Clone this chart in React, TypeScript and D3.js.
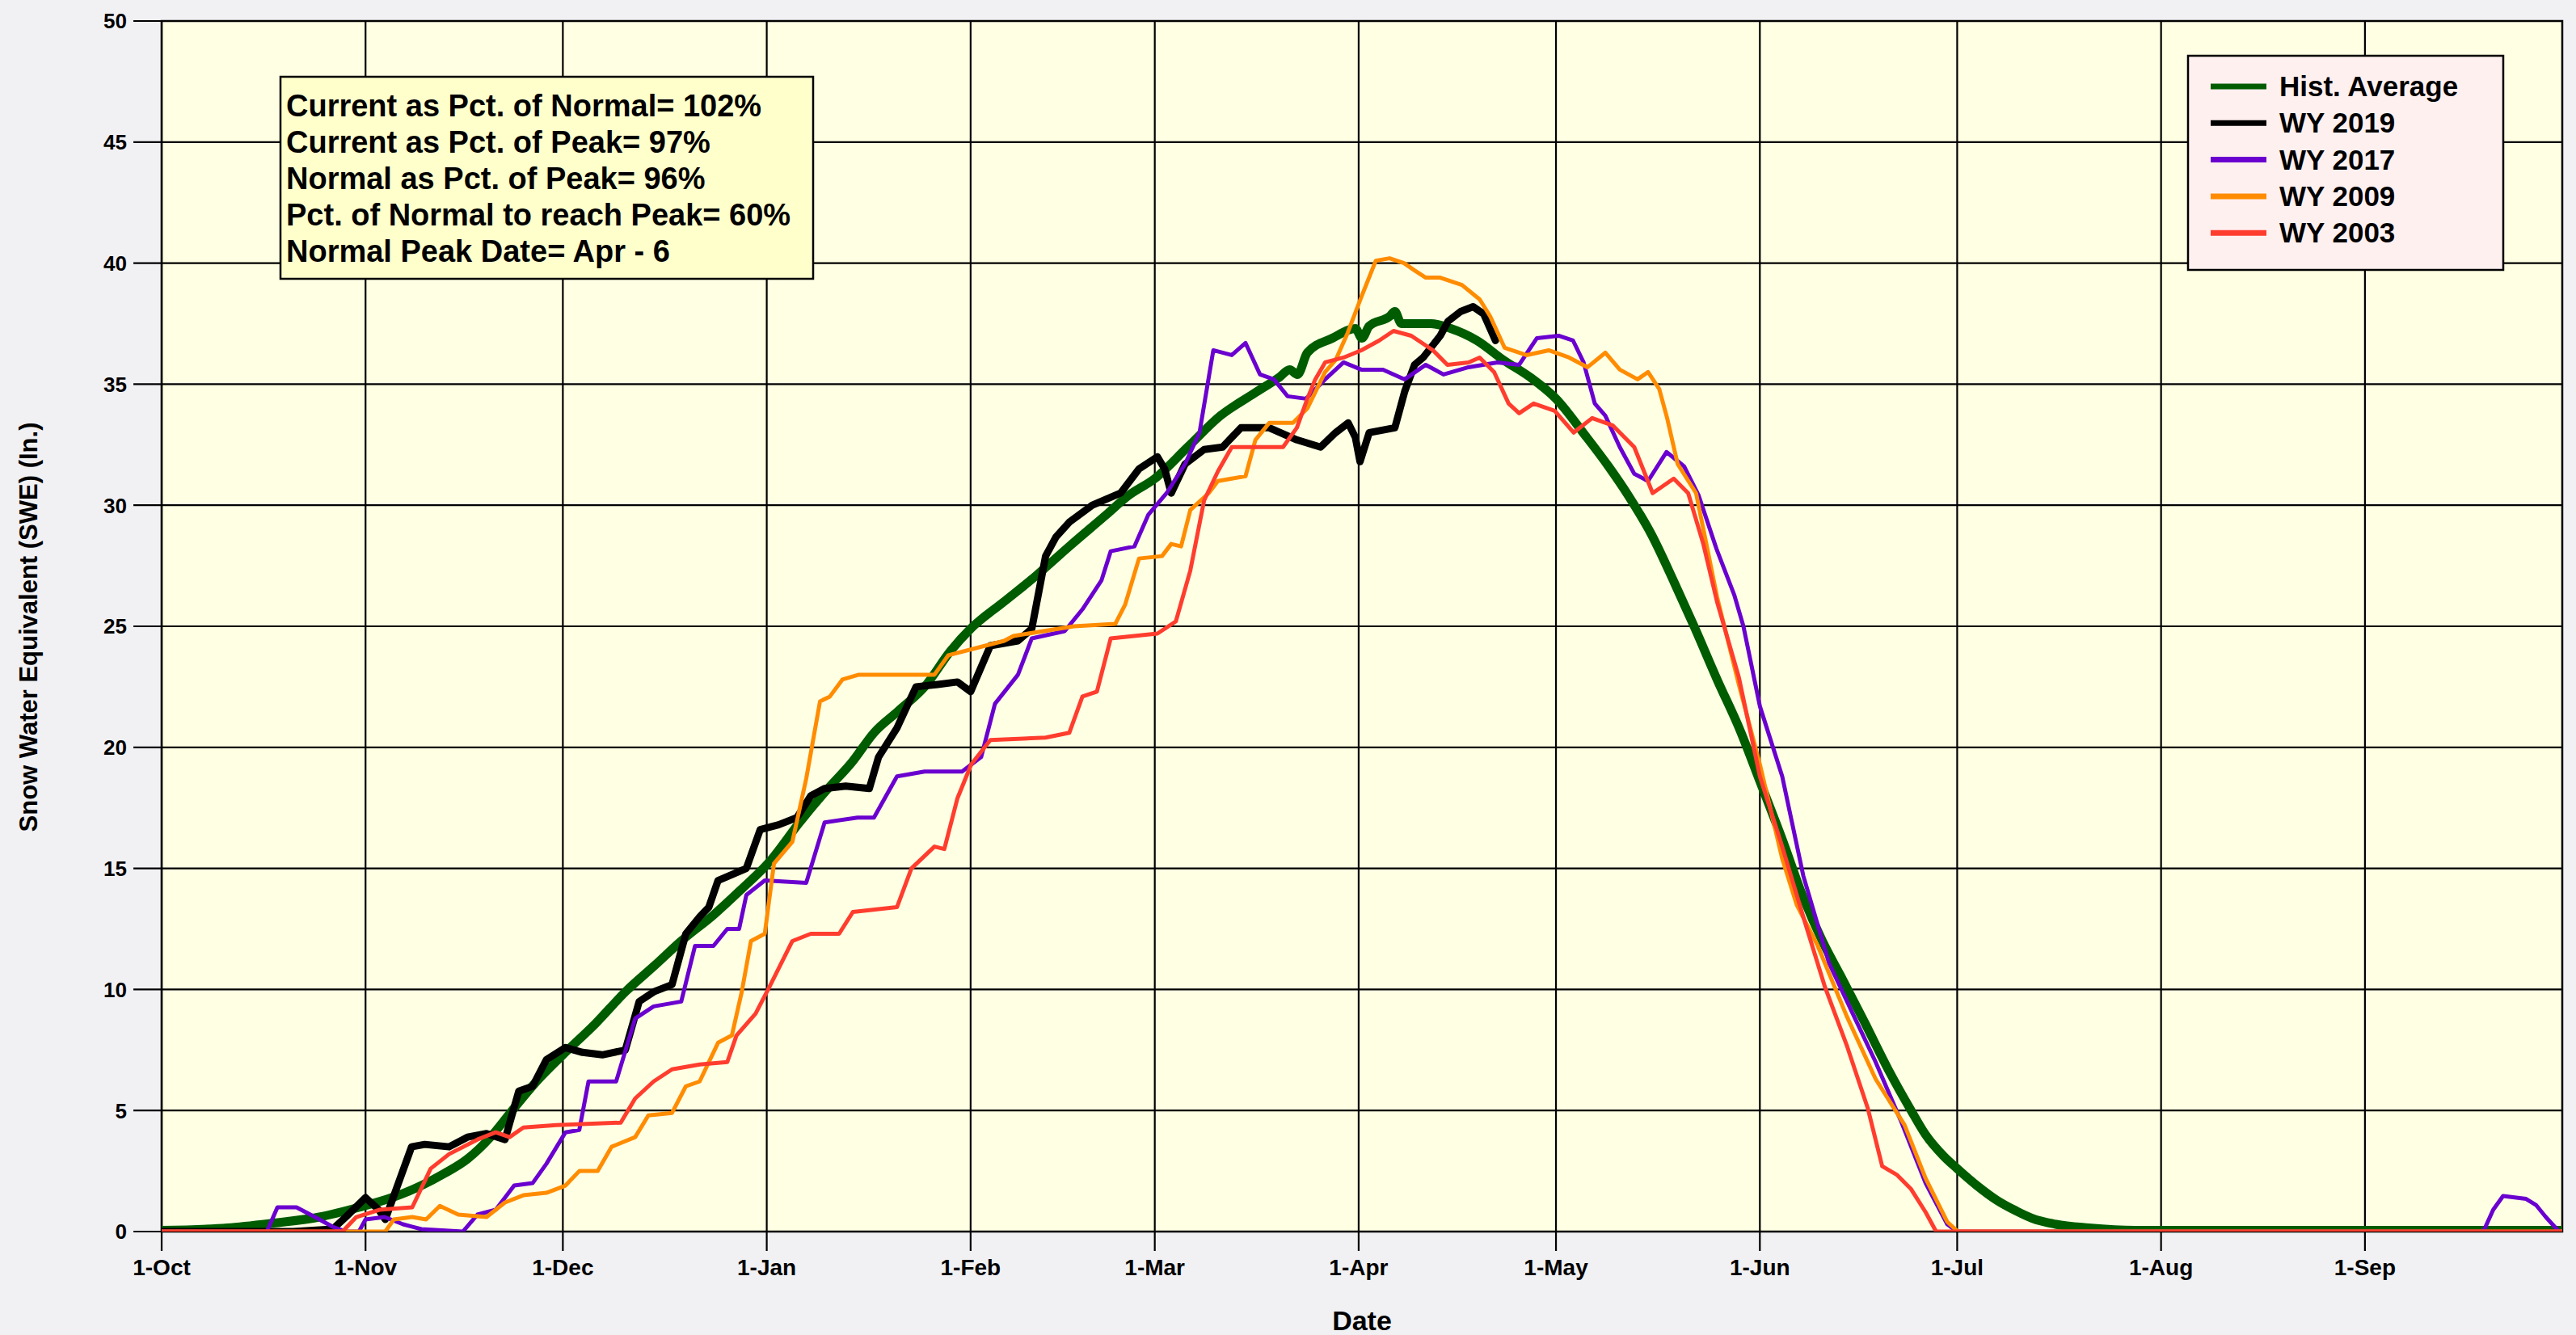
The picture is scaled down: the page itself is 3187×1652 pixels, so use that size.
import React from "react";
import * as d3 from "d3";

// ---- data (x = days since 1-Oct, y = SWE inches) ----
const monthStarts = [0, 31, 61, 92, 123, 151, 182, 212, 243, 273, 304, 335];
const monthLabels = ["1-Oct", "1-Nov", "1-Dec", "1-Jan", "1-Feb", "1-Mar", "1-Apr", "1-May", "1-Jun", "1-Jul", "1-Aug", "1-Sep"];
const yTicks = [0, 5, 10, 15, 20, 25, 30, 35, 40, 45, 50];

const histAvg: [number, number][] = [
  [0, 0.05], [10, 0.15], [17, 0.35], [24, 0.6], [30, 1.0], [35, 1.4], [39.5, 1.9], [43, 2.4], [46.5, 3.0], [50, 3.9],
  [53, 4.9], [57, 6.2], [61, 7.3], [66, 8.6], [70.5, 9.9], [75, 11.0], [79, 12.0], [84, 13.1], [88, 14.1], [92.5, 15.3],
  [97, 16.9], [101, 18.2], [105, 19.4], [108.3, 20.6], [112, 21.5], [116, 22.5], [120, 24.0], [123, 24.9], [128, 26.0],
  [133, 27.1], [138, 28.3], [143.6, 29.6], [147, 30.4], [151, 31.1], [156, 32.4], [161, 33.7], [166, 34.6], [170, 35.3],
  [171.5, 35.6], [172.7, 35.4], [174.2, 36.3], [178, 36.9], [181.5, 37.3], [182.5, 36.9], [183.6, 37.4], [186.7, 37.8],
  [187.5, 38.0], [188.5, 37.5], [193, 37.5], [196, 37.3], [200, 36.8], [204, 36.0], [208, 35.3], [212, 34.4], [216.4, 32.9],
  [220, 31.6], [223, 30.4], [226.5, 28.8], [230, 26.8], [233, 25.0], [236.5, 22.8], [240, 20.7], [243, 18.6], [246.4, 16.2],
  [249.6, 13.8], [252.5, 12.0], [255.6, 10.4], [259, 8.6], [262.7, 6.6], [266, 5.0], [268.2, 4.0], [271, 3.1], [273, 2.6],
  [276, 1.9], [279, 1.3], [282, 0.85], [284.4, 0.55], [288, 0.3], [293, 0.15], [300, 0.05], [365, 0.05],
];

const wy2019: [number, number][] = [
  [0, 0], [20, 0], [26, 0.1], [28, 0.6], [31, 1.4], [33, 0.9], [34, 0.5], [36, 2.0], [38, 3.5], [40, 3.6], [43.7, 3.5],
  [46.5, 3.9], [49.4, 4.05], [52.2, 3.8], [54.3, 5.8], [56.4, 6.0], [58.5, 7.1], [61.4, 7.6], [64, 7.4], [67, 7.3],
  [70.5, 7.5], [72.6, 9.5], [74.8, 9.9], [77.6, 10.2], [79.7, 12.3], [81.8, 13.0], [83.2, 13.4], [84.6, 14.5], [88.9, 15.0],
  [91, 16.6], [93.8, 16.8], [96.6, 17.1], [98.7, 18.0], [100.8, 18.3], [104, 18.4], [107.6, 18.3], [109, 19.6],
  [111.8, 20.8], [114.7, 22.5], [118, 22.6], [121, 22.7], [123, 22.3], [126, 24.2], [130.2, 24.4], [132.3, 24.9],
  [134.4, 27.9], [136, 28.7], [138, 29.3], [141.5, 30.0], [145.8, 30.5], [148.6, 31.5], [151.4, 32.0], [152.5, 31.5],
  [153.5, 30.5], [155.6, 31.7], [158.5, 32.3], [161.3, 32.4], [164.1, 33.2], [168.4, 33.2], [172.6, 32.7], [176.2, 32.4],
  [178.5, 33.0], [180.4, 33.4], [181.5, 32.8], [182.2, 31.8], [183.6, 33.0], [187.5, 33.2], [189, 34.7], [190.5, 35.8],
  [191.8, 36.1], [194.4, 37.0], [195.6, 37.6], [197.5, 38.0], [199.4, 38.2], [201, 37.9], [202.8, 36.8],
];

const wy2017: [number, number][] = [
  [0, 0], [16, 0], [17.6, 1.0], [20.5, 1.0], [23.3, 0.6], [26, 0.2], [28, 0], [30, 0], [31, 0.5], [33.9, 0.6], [36.7, 0.3],
  [39.5, 0.1], [45.8, 0], [48, 0.7], [50.8, 0.9], [53.6, 1.9], [56.4, 2.0], [58.5, 2.8], [61.4, 4.1], [63.5, 4.2],
  [64.9, 6.2], [69.1, 6.2], [72, 8.8], [74.8, 9.3], [79, 9.5], [81.1, 11.8], [83.9, 11.8], [86, 12.5], [87.8, 12.5],
  [88.9, 13.9], [91.7, 14.5], [98, 14.4], [100.8, 16.9], [105.8, 17.1], [108.3, 17.1], [111.8, 18.8], [116, 19.0],
  [121.7, 19.0], [124.6, 19.6], [126.7, 21.8], [130.2, 23.0], [132.3, 24.5], [137.3, 24.8], [140, 25.7], [142.9, 26.9],
  [144.3, 28.1], [147.9, 28.3], [150, 29.6], [152.8, 30.5], [155.6, 31.7], [157.8, 33.0], [159.9, 36.4], [162.7, 36.2],
  [164.8, 36.7], [167, 35.4], [169.1, 35.2], [171.2, 34.5], [174, 34.4], [176.9, 35.2], [179.7, 35.9], [182.4, 35.6],
  [185.7, 35.6], [189, 35.2], [192.2, 35.8], [194.9, 35.4], [198.7, 35.7], [203.1, 35.9], [206.4, 35.8], [209.1, 36.9],
  [212.4, 37.0], [214.6, 36.8], [216.2, 35.9], [217.9, 34.2], [219.5, 33.7], [221.7, 32.4], [223.9, 31.3], [226, 31.0],
  [228.8, 32.2], [231.5, 31.6], [233.7, 30.4], [236.4, 28.2], [239.1, 26.3], [240.5, 25.0], [243, 21.7], [246.4, 18.8],
  [249.6, 14.7], [253.5, 11.1], [257.3, 8.9], [260.6, 7.0], [264.4, 4.6], [268.2, 2.0], [271.5, 0.3], [273, 0], [353, 0],
  [354.5, 0.9], [356, 1.47], [359.5, 1.35], [361, 1.1], [362.5, 0.6], [364.5, 0],
];

const wy2009: [number, number][] = [
  [0, 0], [34, 0], [35.3, 0.5], [38.1, 0.6], [40.2, 0.5], [42.3, 1.06], [45.1, 0.7], [49.4, 0.6], [52.2, 1.2], [55, 1.5],
  [58.5, 1.6], [61.4, 1.9], [63.5, 2.5], [66.3, 2.5], [68.4, 3.5], [72, 3.9], [74, 4.8], [77.6, 4.9], [79.7, 6.0],
  [81.8, 6.2], [84.6, 7.8], [86.7, 8.1], [88.2, 9.9], [89.6, 12.0], [91.7, 12.3], [93.1, 15.2], [95.9, 16.1], [98, 18.7],
  [100.1, 21.9], [101.6, 22.1], [103.5, 22.8], [106, 23.0], [117.5, 23.0], [119.6, 23.8], [128.1, 24.4], [129.5, 24.6],
  [138.7, 25.0], [145, 25.1], [146.5, 25.9], [148.6, 27.8], [152.1, 27.9], [153.5, 28.4], [155, 28.3], [156.4, 29.8],
  [159.2, 30.5], [160.6, 31.0], [164.8, 31.2], [166.3, 32.7], [168.4, 33.4], [172, 33.4], [174.2, 34.0], [176.9, 35.5],
  [178.5, 36.0], [180.3, 37.1], [182.4, 38.6], [184.6, 40.1], [186.7, 40.2], [188.9, 40.0], [190.5, 39.7], [192.2, 39.4],
  [194.4, 39.4], [197.7, 39.1], [200.4, 38.5], [202, 37.8], [204.2, 36.5], [207.5, 36.2], [210.9, 36.4], [214, 36.1],
  [216.8, 35.7], [219.5, 36.3], [221.7, 35.6], [224.4, 35.2], [226, 35.5], [227.7, 34.8], [228.9, 33.6], [230.5, 31.7],
  [233.3, 30.5], [236.5, 26.2], [239.8, 22.6], [243, 19.3], [246.4, 15.4], [248.6, 13.5], [251.8, 11.8], [256.2, 8.9],
  [260.6, 6.3], [265, 4.4], [268.2, 2.2], [271.5, 0.4], [273.1, 0], [365, 0],
];

const wy2003: [number, number][] = [
  [0, 0], [27.5, 0], [29.6, 0.6], [33.1, 0.9], [38.1, 1.0], [40.9, 2.6], [43.7, 3.2], [48, 3.8], [50.8, 4.1], [52.9, 3.9],
  [55, 4.3], [60, 4.4], [69.8, 4.5], [72, 5.5], [74.8, 6.2], [77.6, 6.7], [81.8, 6.9], [86, 7.0], [87.4, 8.1], [90.3, 9.0],
  [92.4, 10.1], [95.9, 12.0], [98.7, 12.3], [103, 12.3], [105.1, 13.2], [111.8, 13.4], [114, 15.0], [117.5, 15.9],
  [119, 15.8], [121, 17.9], [123.1, 19.3], [126, 20.3], [134.4, 20.4], [138, 20.6], [140, 22.1], [142.2, 22.3],
  [144.3, 24.5], [151.4, 24.7], [154.2, 25.2], [156.4, 27.3], [158.5, 30.2], [160.6, 31.4], [162.7, 32.4], [170.5, 32.4],
  [172.6, 33.2], [174.2, 34.4], [175.4, 35.2], [176.9, 35.9], [179.7, 36.1], [182.4, 36.4], [185.1, 36.8], [187.3, 37.2],
  [190, 37.0], [193.3, 36.4], [195.5, 35.8], [198.7, 35.9], [200.4, 36.1], [202.6, 35.5], [204.8, 34.2], [206.4, 33.8],
  [208.6, 34.2], [211.8, 33.9], [214.7, 33.0], [217.5, 33.6], [220.6, 33.3], [223.9, 32.4], [226.7, 30.5], [229.9, 31.1],
  [232.1, 30.5], [234.4, 28.4], [236.5, 26.0], [239.8, 22.9], [243, 18.8], [246.4, 15.9], [249.6, 13.0], [252.9, 10.1],
  [256.2, 7.7], [259.4, 5.1], [261.6, 2.7], [263.8, 2.35], [266, 1.75], [268.2, 0.8], [269.8, 0], [365, 0],
];

const seriesNames = ["Hist. Average", "WY 2019", "WY 2017", "WY 2009", "WY 2003"];
const seriesData = [histAvg, wy2019, wy2017, wy2009, wy2003];
const seriesColors = ["#005C00", "#000000", "#6A00CF", "#FF8C00", "#FF3D2E"];
const seriesWidths = [11, 9, 5, 5, 5];

const statLines = [
  "Current as Pct. of Normal= 102%",
  "Current as Pct. of Peak= 97%",
  "Normal as Pct. of Peak= 96%",
  "Pct. of Normal to reach Peak= 60%",
  "Normal Peak Date= Apr - 6",
];

const W = 3187;
const H = 1652;
const M = { left: 200, right: 3170, top: 26, bottom: 1524 };
const FONT = "'Liberation Sans', Arial, Helvetica, sans-serif";

export default function App() {
  const x = d3.scaleLinear().domain([0, 365]).range([M.left, M.right]);
  const y = d3.scaleLinear().domain([0, 50]).range([M.bottom, M.top]);

  const smoothLine = d3
    .line<[number, number]>()
    .x((d) => x(d[0]))
    .y((d) => y(d[1]))
    .curve(d3.curveMonotoneX);
  const rawLine = d3
    .line<[number, number]>()
    .x((d) => x(d[0]))
    .y((d) => y(d[1]))
    .curve(d3.curveLinear);

  return (
    <svg
      width={W}
      height={H}
      viewBox={`0 0 ${W} ${H}`}
      style={{ position: "absolute", left: 0, top: 0, display: "block" }}
      fontFamily={FONT}
    >
      <defs>
        <clipPath id="plotClip">
          <rect x={M.left} y={M.top} width={M.right - M.left} height={M.bottom - M.top} />
        </clipPath>
      </defs>
      <rect x={0} y={0} width={W} height={H} fill="#F1F1F4" />
      <rect x={M.left} y={M.top} width={M.right - M.left} height={M.bottom - M.top} fill="#FFFFE4" />

      {/* horizontal grid + y ticks */}
      {yTicks.map((t) => (
        <g key={`y${t}`}>
          <line x1={M.left - 35} x2={M.right} y1={y(t)} y2={y(t)} stroke="#000" strokeWidth={2.2} />
          <text
            x={157}
            y={y(t)}
            dy="0.36em"
            textAnchor="end"
            fontSize={26}
            fontWeight="bold"
            fill="#000"
          >
            {t}
          </text>
        </g>
      ))}

      {/* vertical grid + x ticks */}
      {monthStarts.map((m, i) => (
        <g key={`x${m}`}>
          <line x1={x(m)} x2={x(m)} y1={M.top} y2={M.bottom + 24} stroke="#000" strokeWidth={2.2} />
          <text x={x(m)} y={1578} textAnchor="middle" fontSize={28} fontWeight="bold" fill="#000">
            {monthLabels[i]}
          </text>
        </g>
      ))}

      {/* border */}
      <rect
        x={M.left}
        y={M.top}
        width={M.right - M.left}
        height={M.bottom - M.top}
        fill="none"
        stroke="#000"
        strokeWidth={2.5}
      />

      {/* series */}
      <g clipPath="url(#plotClip)">
        {seriesData.map((d, i) => (
          <path
            key={seriesNames[i]}
            d={(i === 0 ? smoothLine(d) : rawLine(d)) || ""}
            fill="none"
            stroke={seriesColors[i]}
            strokeWidth={seriesWidths[i]}
            strokeLinejoin="round"
            strokeLinecap="round"
          />
        ))}
      </g>

      {/* axis titles */}
      <text x={1685} y={1646} textAnchor="middle" fontSize={34} fontWeight="bold" fill="#000">
        Date
      </text>
      <text
        transform={`translate(46, 776) rotate(-90)`}
        textAnchor="middle"
        fontSize={31}
        fontWeight="bold"
        fill="#000"
      >
        Snow Water Equivalent (SWE) (In.)
      </text>

      {/* stats box */}
      <rect x={347} y={95} width={659} height={250} fill="#FFFFCC" stroke="#000" strokeWidth={2.5} />
      {statLines.map((s, i) => (
        <text key={s} x={354} y={144 + i * 45} fontSize={38} fontWeight="bold" fill="#000">
          {s}
        </text>
      ))}

      {/* legend */}
      <rect x={2707} y={69} width={390} height={265} fill="#FFF0F0" stroke="#000" strokeWidth={2.5} />
      {seriesNames.map((n, i) => (
        <g key={`lg${n}`}>
          <line
            x1={2735}
            x2={2804}
            y1={107 + i * 45.3}
            y2={107 + i * 45.3}
            stroke={seriesColors[i]}
            strokeWidth={7}
          />
          <text x={2820} y={119 + i * 45.3} fontSize={35} fontWeight="bold" fill="#000">
            {n}
          </text>
        </g>
      ))}
    </svg>
  );
}
